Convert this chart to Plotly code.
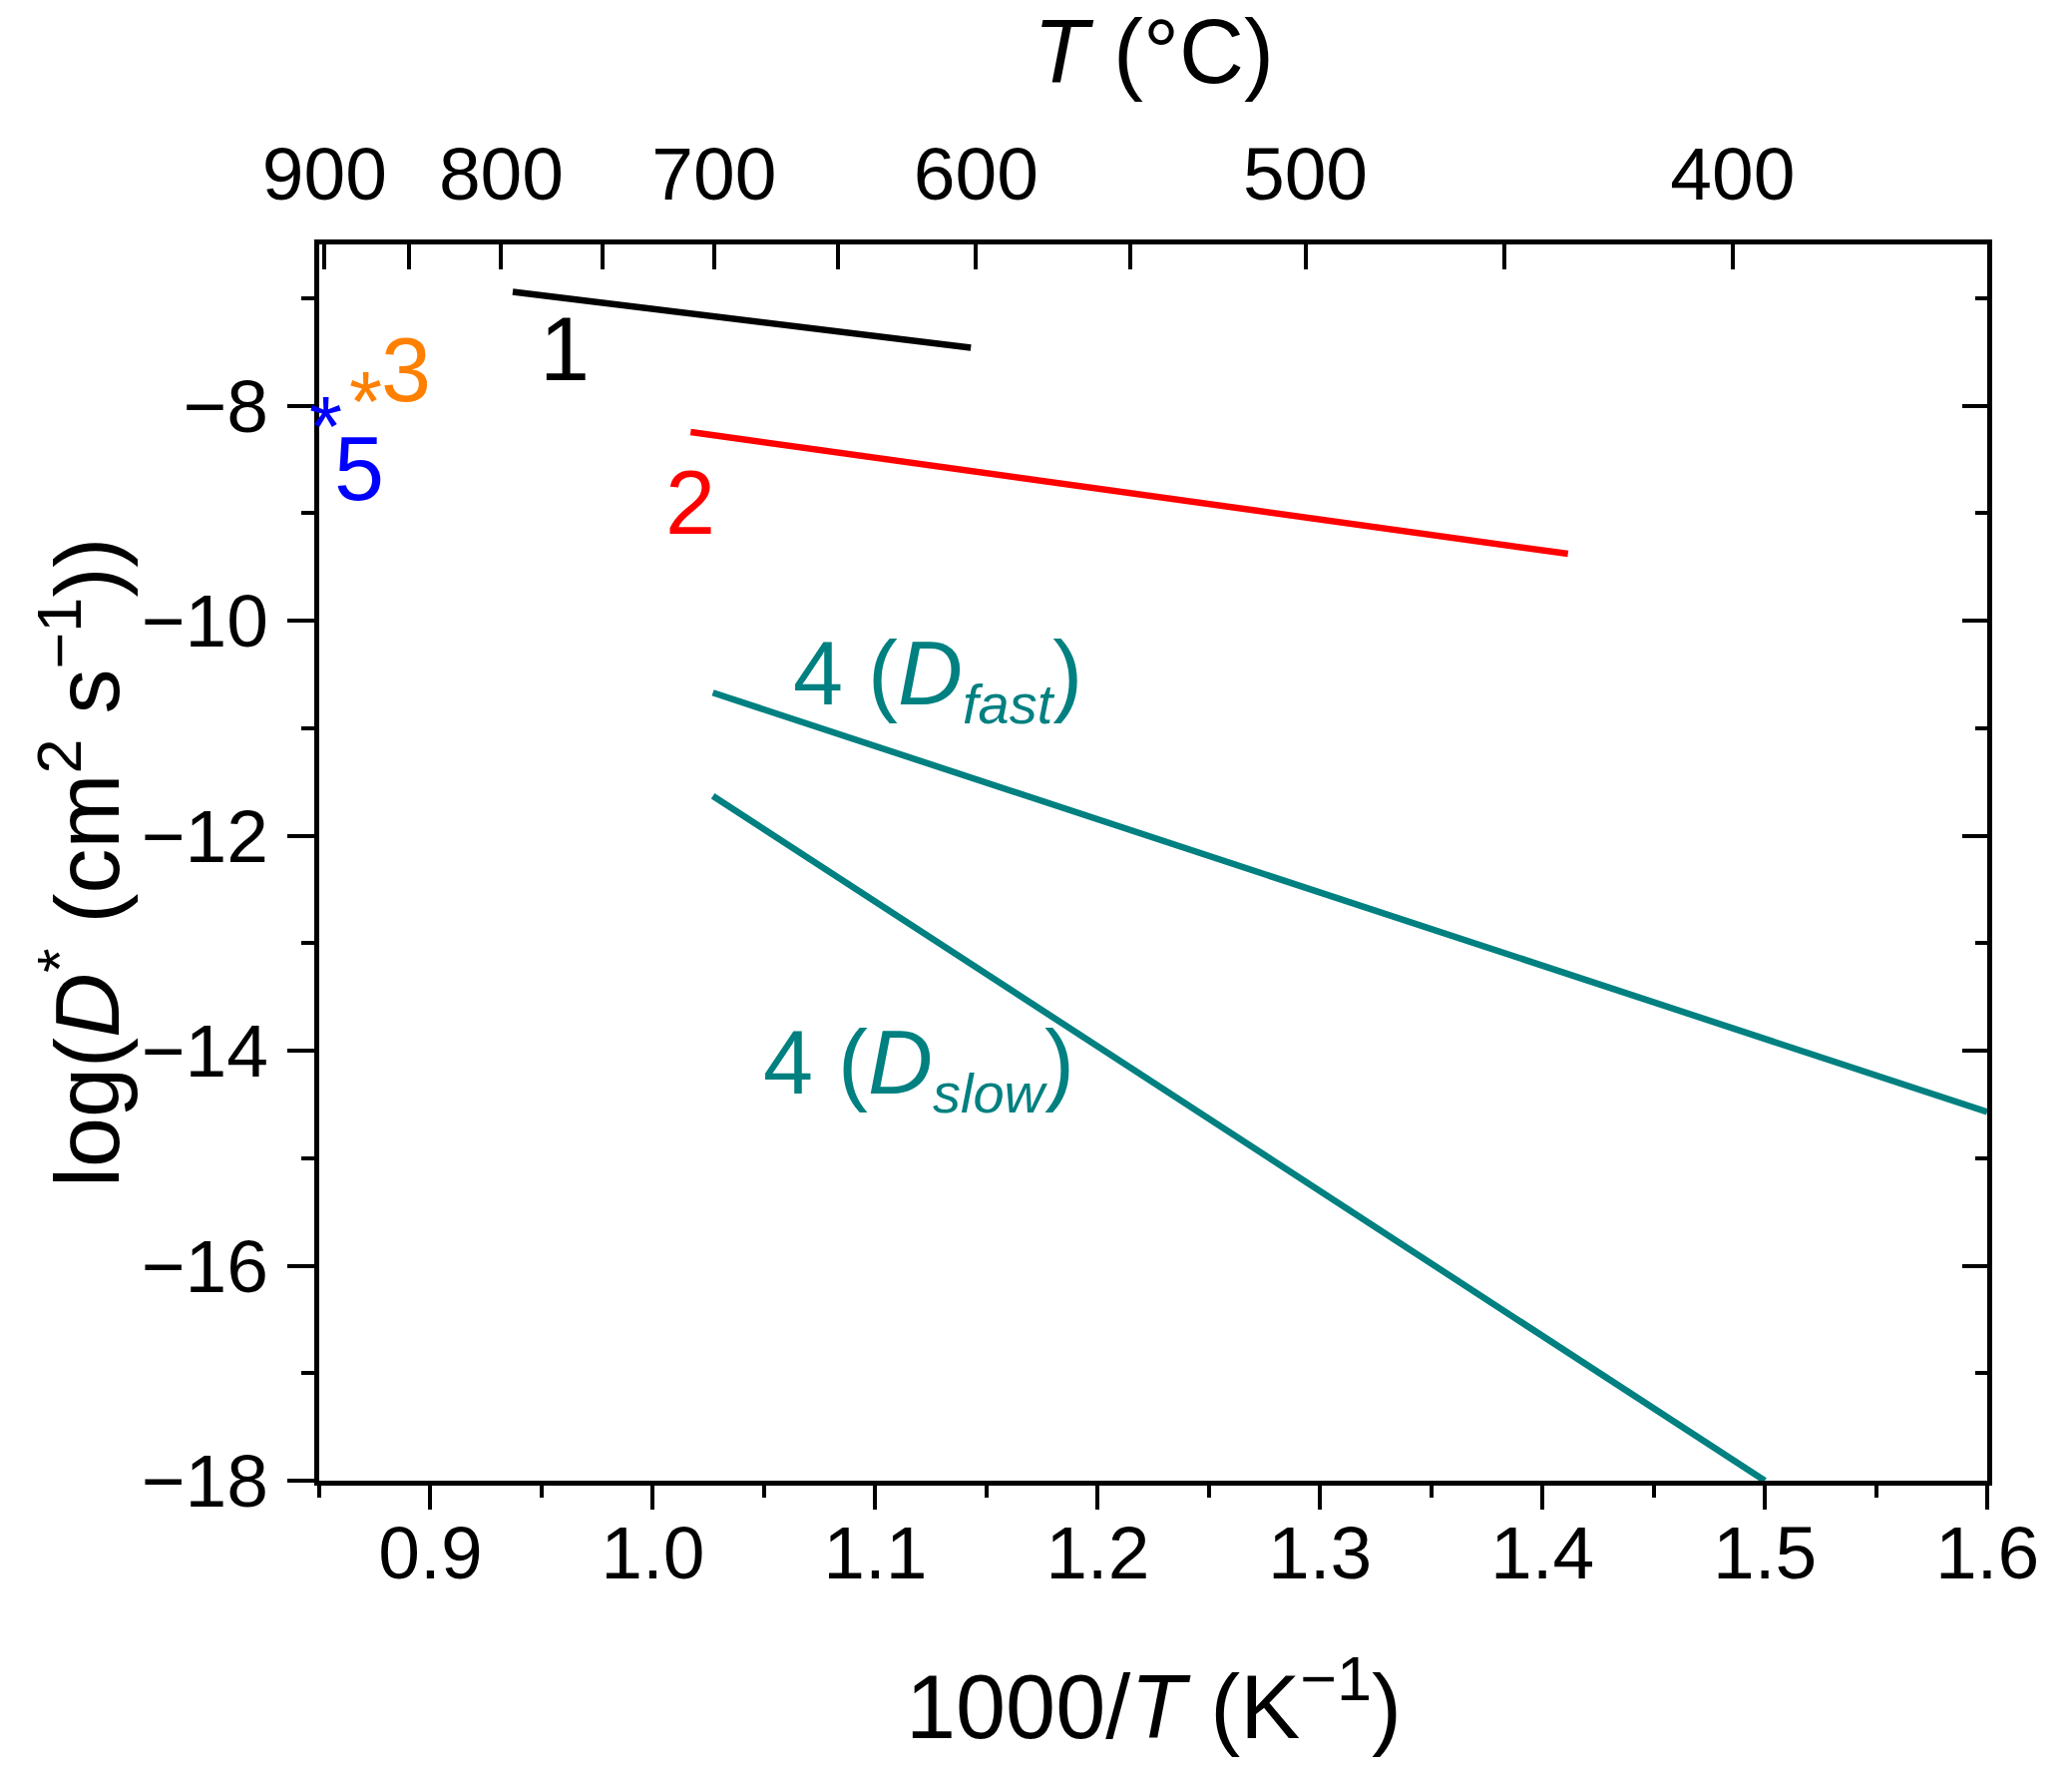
import plotly.graph_objects as go

# ---- data ----
x_line1 = [0.937, 1.143]
y_line1 = [-6.94, -7.46]
x_line2 = [1.017, 1.4115]
y_line2 = [-8.245, -9.378]
x_fast = [1.027, 1.6]
y_fast = [-10.67, -14.57]
x_slow = [1.027, 1.5]
y_slow = [-11.63, -18.0]
x_pt3 = [0.871]
y_pt3 = [-7.83]
x_pt5 = [0.853]
y_pt5 = [-8.06]

top_T = [900, 850, 800, 750, 700, 650, 600, 550, 500, 450, 400]
top_labels = ["900", "", "800", "", "700", "", "600", "", "500", "", "400"]

x_range = [0.85, 1.6]
y_range = [-18, -6.5]

FONT = "Liberation Sans, Arial, sans-serif"
TEAL = "#008080"
ORANGE = "#FF8000"
BLUE = "#0000FF"
RED = "#FF0000"

fig = go.Figure()
lw = 6.5
fig.add_trace(go.Scatter(x=x_line1, y=y_line1, mode="lines", line=dict(color="black", width=lw)))
fig.add_trace(go.Scatter(x=x_line2, y=y_line2, mode="lines", line=dict(color=RED, width=lw)))
fig.add_trace(go.Scatter(x=x_fast, y=y_fast, mode="lines", line=dict(color=TEAL, width=lw)))
fig.add_trace(go.Scatter(x=x_slow, y=y_slow, mode="lines", line=dict(color=TEAL, width=lw)))
# invisible traces to activate secondary axes
fig.add_trace(go.Scatter(x=x_range, y=y_range, xaxis="x2", yaxis="y", mode="none", hoverinfo="skip"))
fig.add_trace(go.Scatter(x=x_range, y=y_range, xaxis="x", yaxis="y2", mode="none", hoverinfo="skip"))

# asterisk point markers (drawn as text glyphs at the data points)
for xs, ys, col in [(x_pt3, y_pt3, ORANGE), (x_pt5, y_pt5, BLUE)]:
    for xv, yv in zip(xs, ys):
        fig.add_annotation(x=xv, y=yv, xref="x", yref="y", text="*", showarrow=False,
                           xanchor="center", yanchor="middle", yshift=-14,
                           font=dict(family=FONT, size=85, color=col))

tick_font = dict(family=FONT, size=75, color="black")

W, H = 2069, 1774
fig.update_layout(
    width=W, height=H,
    margin=dict(l=312, r=85, t=237, b=298),
    paper_bgcolor="white", plot_bgcolor="white",
    showlegend=False,
    font=dict(family=FONT, color="black"),
    xaxis=dict(
        range=x_range, showgrid=False, zeroline=False,
        showline=True, linecolor="black", linewidth=5, mirror=True,
        ticks="outside", ticklen=24, tickwidth=4, tickcolor="black",
        dtick=0.1, tick0=0.9, tickformat=".1f", tickfont=tick_font,
        minor=dict(ticks="outside", ticklen=12, tickwidth=4, tickcolor="black", dtick=0.05, tick0=0.85),
        ticklabelstandoff=-21,
    ),
    xaxis2=dict(
        range=x_range, overlaying="x", side="top", showgrid=False, zeroline=False,
        showline=True, linecolor="black", linewidth=5,
        tickvals=[1000.0 / (t + 273.15) for t in top_T], ticktext=top_labels,
        ticks="inside", ticklen=25, tickwidth=4, tickcolor="black",
        tickfont=tick_font, ticklabelstandoff=10,
    ),
    yaxis=dict(
        range=y_range, showgrid=False, zeroline=False,
        showline=True, linecolor="black", linewidth=5, mirror=True,
        ticks="outside", ticklen=27, tickwidth=4, tickcolor="black",
        dtick=2, tick0=-18, tickfont=tick_font,
        minor=dict(ticks="outside", ticklen=13, tickwidth=4, tickcolor="black", dtick=1, tick0=-18),
        ticklabelstandoff=4,
    ),
    yaxis2=dict(
        range=y_range, overlaying="y", side="right", showgrid=False, zeroline=False,
        showline=True, linecolor="black", linewidth=5,
        ticks="inside", ticklen=25, tickwidth=4, tickcolor="black",
        dtick=2, tick0=-18, showticklabels=False,
        minor=dict(ticks="inside", ticklen=12, tickwidth=4, tickcolor="black", dtick=1, tick0=-18),
    ),
)

ann = [
    dict(x=0.9605, y=-7.47, text="1", color="black"),
    dict(x=1.017, y=-8.90, text="2", color=RED),
    dict(x=0.889, y=-7.67, text="3", color=ORANGE),
    dict(x=0.868, y=-8.59, text="5", color=BLUE),
]
for a in ann:
    fig.add_annotation(x=a["x"], y=a["y"], xref="x", yref="y", text=a["text"], showarrow=False,
                       xanchor="center", yanchor="middle",
                       font=dict(family=FONT, size=90, color=a["color"]))

fig.add_annotation(x=1.062, y=-10.55, xref="x", yref="y", showarrow=False,
                   text="4 (<i>D</i><sub><i><span style=\"font-size:56px\">fast</span></i></sub>)",
                   xanchor="left", yanchor="middle",
                   font=dict(family=FONT, size=90, color=TEAL))
fig.add_annotation(x=1.0487, y=-14.17, xref="x", yref="y", showarrow=False,
                   text="4 (<i>D</i><sub><i><span style=\"font-size:56px\">slow</span></i></sub>)",
                   xanchor="left", yanchor="middle",
                   font=dict(family=FONT, size=90, color=TEAL))

# axis titles
fig.add_annotation(x=-0.1432, y=0.5, xref="paper", yref="paper", showarrow=False, textangle=-90,
                   text="log(<i>D</i><sup>*</sup> (cm<sup>2</sup> s<sup>\u22121</sup>))",
                   xanchor="center", yanchor="middle", font=dict(family=FONT, size=90, color="black"))
fig.add_annotation(x=0.5, y=-0.1776, xref="paper", yref="paper", showarrow=False,
                   text="1000/<i>T</i> (K<sup>\u22121</sup>)",
                   xanchor="center", yanchor="middle", font=dict(family=FONT, size=90, color="black"))
fig.add_annotation(x=0.5, y=1.1555, xref="paper", yref="paper", showarrow=False,
                   text="<i>T</i> (°C)",
                   xanchor="center", yanchor="middle", font=dict(family=FONT, size=90, color="black"))

fig.write_html("out.html")
